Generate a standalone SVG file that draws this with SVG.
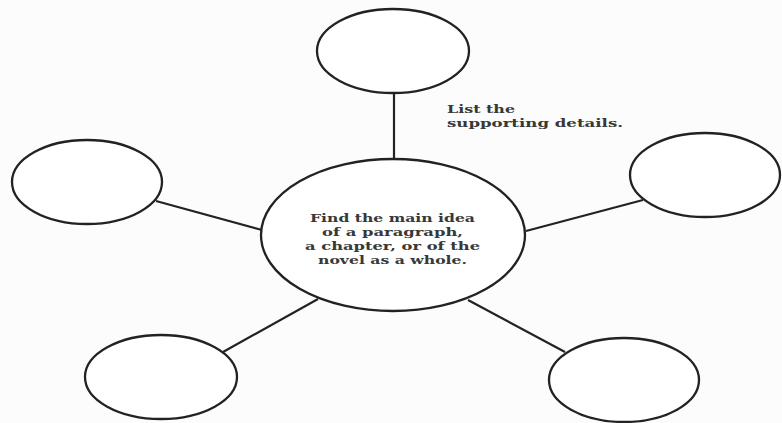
<svg xmlns="http://www.w3.org/2000/svg" width="782" height="423" viewBox="0 0 782 423">
<style>
.node{fill:#ffffff;stroke:#222222;stroke-width:2.3}
.edge{stroke:#222222;stroke-width:2.2;fill:none}
.t{font-family:"DejaVu Serif","Liberation Serif",serif;font-weight:bold;font-size:11.5px;fill:#383838}
</style>
<rect width="782" height="423" fill="#fcfcfc"/>
<g id="connectors">
<line class="edge" x1="394" y1="93" x2="394" y2="159"/>
<line class="edge" x1="156" y1="201" x2="262" y2="230"/>
<line class="edge" x1="643" y1="200" x2="526" y2="231"/>
<line class="edge" x1="223" y1="352" x2="318" y2="299"/>
<line class="edge" x1="565" y1="352" x2="468" y2="300"/>
</g>
<g id="node-top"><ellipse class="node" cx="393" cy="51" rx="76" ry="42"/></g>
<g id="node-left"><ellipse class="node" cx="87" cy="182" rx="75" ry="42"/></g>
<g id="node-right"><ellipse class="node" cx="705" cy="175" rx="75" ry="42"/></g>
<g id="node-bottom-left"><ellipse class="node" cx="161" cy="377" rx="76" ry="42"/></g>
<g id="node-bottom-right"><ellipse class="node" cx="624" cy="380" rx="75" ry="42"/></g>
<g id="node-center">
<ellipse class="node" cx="393" cy="235" rx="132" ry="76"/>
<text class="t" x="310" y="222" textLength="165" lengthAdjust="spacingAndGlyphs">Find the main idea</text>
<text class="t" x="322" y="236" textLength="141" lengthAdjust="spacingAndGlyphs">of a paragraph,</text>
<text class="t" x="305" y="250" textLength="175" lengthAdjust="spacingAndGlyphs">a chapter, or of the</text>
<text class="t" x="318" y="264" textLength="149" lengthAdjust="spacingAndGlyphs">novel as a whole.</text>
</g>
<g id="label-supporting">
<text class="t" x="447" y="113" textLength="68" lengthAdjust="spacingAndGlyphs">List the</text>
<text class="t" x="447" y="127" textLength="176" lengthAdjust="spacingAndGlyphs">supporting details.</text>
</g>
</svg>
